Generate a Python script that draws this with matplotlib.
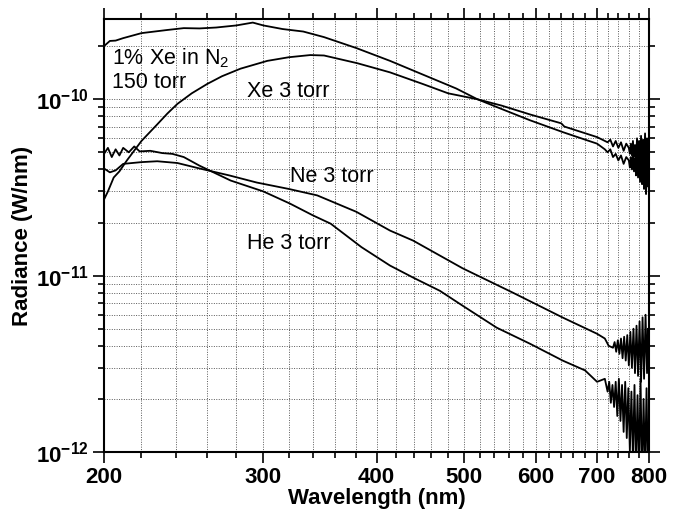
import numpy as np
import matplotlib
matplotlib.use("Agg")
import matplotlib.pyplot as plt
from matplotlib.ticker import FixedLocator, FuncFormatter, NullFormatter

plt.rcParams['font.family'] = ['Liberation Sans', 'DejaVu Sans']
plt.rcParams['mathtext.fontset'] = 'custom'
plt.rcParams['mathtext.rm'] = 'Liberation Sans'
plt.rcParams['mathtext.bf'] = 'Liberation Sans:bold'
plt.rcParams['mathtext.it'] = 'Liberation Sans:italic'

# ---- data ----
xe_n2_wl = [200, 203, 206, 210, 220, 235, 245, 255, 266, 280, 292, 300, 315, 332, 350,
            380, 414, 450, 490, 517, 550, 591, 643, 680, 701, 715, 720, 725, 730, 735,
            740, 745, 750, 755,
            760, 762, 764, 766, 768, 770, 772, 774, 776, 778, 780, 782, 784, 786, 788,
            790, 792, 794, 796, 798, 800]
xe_n2_val = [2.0e-10, 2.14e-10, 2.15e-10, 2.22e-10, 2.37e-10, 2.47e-10, 2.53e-10, 2.52e-10,
             2.55e-10, 2.62e-10, 2.72e-10, 2.62e-10, 2.5e-10, 2.42e-10, 2.25e-10,
             1.95e-10, 1.65e-10, 1.38e-10, 1.15e-10, 1.0e-10, 8.8e-11, 7.6e-11, 6.5e-11,
             5.9e-11, 5.6e-11, 5.2e-11, 5.0e-11, 5.2e-11, 4.7e-11, 4.9e-11,
             4.5e-11, 4.8e-11, 4.3e-11, 4.7e-11,
             4.5e-11, 4.1e-11, 4.7e-11, 4.0e-11, 4.8e-11, 3.9e-11, 4.6e-11, 3.7e-11,
             4.9e-11, 3.6e-11, 4.7e-11, 3.4e-11, 5.0e-11, 3.3e-11, 4.6e-11, 3.1e-11,
             5.2e-11, 2.9e-11, 4.4e-11, 3.2e-11, 3.8e-11]

xe3_wl = [200, 202, 205, 208, 212, 220, 229, 235, 241, 250, 260, 270, 283, 303, 320, 338,
          350, 381, 414, 450, 480, 517, 550, 591, 640, 645, 701, 720, 725, 730, 735, 740,
          745, 750, 755,
          760, 762, 764, 766, 768, 770, 772, 774, 776, 778, 780, 782, 784, 786, 788,
          790, 792, 794, 796, 798, 800]
xe3_val = [2.7e-11, 3.0e-11, 3.6e-11, 3.9e-11, 4.5e-11, 5.8e-11, 7.2e-11, 8.3e-11, 9.4e-11,
           1.08e-10, 1.22e-10, 1.35e-10, 1.49e-10, 1.65e-10, 1.73e-10, 1.78e-10,
           1.77e-10, 1.6e-10, 1.42e-10, 1.22e-10, 1.08e-10, 1.0e-10, 9.2e-11, 8.2e-11,
           7.3e-11, 7.0e-11, 6.1e-11, 5.7e-11, 5.9e-11, 5.4e-11, 5.8e-11, 5.3e-11,
           5.7e-11, 5.1e-11, 5.6e-11,
           5.3e-11, 4.9e-11, 5.6e-11, 4.8e-11, 5.8e-11, 4.7e-11, 5.5e-11, 4.5e-11,
           6.0e-11, 4.6e-11, 5.8e-11, 4.3e-11, 6.2e-11, 4.4e-11, 5.9e-11, 4.2e-11,
           6.4e-11, 4.0e-11, 6.0e-11, 4.4e-11, 5.0e-11]

ne_wl = [200, 203, 206, 210, 220, 229, 241, 255, 275, 295, 320, 344, 380, 414, 439, 498,
         566, 643, 701, 715, 722, 730, 733, 736, 739, 742, 745, 748, 751, 754, 757, 760,
         763, 766, 769, 772, 775, 778, 781, 784, 787, 790, 793, 796, 798, 800]
ne_val = [4.05e-11, 3.85e-11, 3.95e-11, 4.3e-11, 4.4e-11, 4.45e-11, 4.35e-11, 4.05e-11,
          3.7e-11, 3.37e-11, 3.1e-11, 2.85e-11, 2.3e-11, 1.8e-11, 1.58e-11, 1.1e-11,
          8.0e-12, 5.77e-12, 4.68e-12, 4.4e-12, 4.0e-12, 3.9e-12, 4.2e-12, 3.7e-12,
          4.3e-12, 3.6e-12, 4.4e-12, 3.4e-12, 4.5e-12, 3.3e-12, 4.6e-12, 3.1e-12,
          4.8e-12, 3.0e-12, 5.0e-12, 2.8e-12, 5.2e-12, 2.7e-12, 5.5e-12, 2.5e-12,
          5.8e-12, 2.6e-12, 6.0e-12, 2.8e-12, 5.0e-12, 3.5e-12]

he_wl = [200, 202, 204, 206, 208, 210, 213, 216, 219, 225, 232, 238, 245, 255, 276, 300,
         321, 340, 356, 385, 414, 439, 470, 498, 543, 591, 643, 680, 701, 715,
         720, 723, 726, 729, 732, 735, 738, 741, 744, 747, 750, 753, 756, 759, 762, 765,
         768, 771, 774, 777, 780, 783, 786, 789, 792, 795, 798, 800]
he_val = [4.9e-11, 5.3e-11, 4.7e-11, 5.2e-11, 4.8e-11, 5.3e-11, 5.0e-11, 5.4e-11, 5.06e-11,
          5.1e-11, 4.95e-11, 4.9e-11, 4.7e-11, 4.2e-11, 3.46e-11, 3.0e-11, 2.56e-11,
          2.2e-11, 1.97e-11, 1.45e-11, 1.14e-11, 9.75e-12, 8.2e-12, 6.75e-12, 5.07e-12,
          4.11e-12, 3.29e-12, 2.9e-12, 2.5e-12, 2.6e-12,
          2.2e-12, 2.5e-12, 1.9e-12, 2.4e-12, 1.8e-12, 2.5e-12, 1.6e-12, 2.6e-12,
          1.5e-12, 2.4e-12, 1.3e-12, 2.5e-12, 1.2e-12, 2.3e-12, 1.0e-12, 2.2e-12,
          0.9e-12, 2.4e-12, 0.8e-12, 2.1e-12, 0.8e-12, 2.6e-12, 0.7e-12, 2.0e-12,
          0.8e-12, 2.3e-12, 0.7e-12, 1.5e-12]

x_major = [200, 300, 400, 500, 600, 700, 800]
y_major = [1e-12, 1e-11, 1e-10]

# ---- figure ----
fig = plt.figure(figsize=(6.78, 5.12), dpi=100)
ax = fig.add_axes([104/678, 1 - 452/512, (649 - 104)/678, (452 - 19)/512])

for wl, val in [(xe_n2_wl, xe_n2_val), (xe3_wl, xe3_val), (ne_wl, ne_val), (he_wl, he_val)]:
    ax.plot(wl, val, color='black', lw=1.3)

ax.set_xscale('log')
ax.set_yscale('log')
ax.set_xlim(200, 800)
ax.set_ylim(1e-12, 2.85e-10)

ax.xaxis.set_major_locator(FixedLocator(x_major))
ax.xaxis.set_major_formatter(FuncFormatter(lambda v, p: '%d' % round(v)))
ax.xaxis.set_minor_locator(FixedLocator([w for w in range(220, 800, 20) if w % 100 != 0]))
ax.xaxis.set_minor_formatter(NullFormatter())

y_minor = [m * d for d in (1e-12, 1e-11, 1e-10) for m in range(2, 10) if m * d <= 2.85e-10]
ax.yaxis.set_major_locator(FixedLocator(y_major))
ax.yaxis.set_minor_locator(FixedLocator(y_minor))
ax.yaxis.set_major_formatter(FuncFormatter(lambda v, p: r'$\mathbf{10^{%d}}$' % round(np.log10(v))))
ax.yaxis.set_minor_formatter(NullFormatter())

ax.tick_params(which='both', direction='out', top=True, right=True, width=1.2, colors='black')
ax.tick_params(which='major', length=8, labelsize=16, pad=3)
ax.tick_params(which='minor', length=4)
for lab in ax.get_xticklabels():
    lab.set_fontweight('bold')

ax.grid(True, which='both', color='0.35', linestyle=(0, (1, 1.5)), lw=0.7)
for s in ax.spines.values():
    s.set_linewidth(1.5)

ax.set_xlabel('Wavelength (nm)', fontsize=16, fontweight='bold', labelpad=0)
ax.set_ylabel('Radiance (W/nm)', fontsize=16, fontweight='bold', labelpad=2)

tkw = dict(fontsize=15.5, color='black')
ax.text(204, 1.58e-10, r'1% Xe in N$_\mathrm{2}$', **tkw)
ax.text(204, 1.155e-10, '150 torr', **tkw)
ax.text(288, 1.03e-10, 'Xe 3 torr', **tkw)
ax.text(321, 3.38e-11, 'Ne 3 torr', **tkw)
ax.text(288, 1.41e-11, 'He 3 torr', **tkw)

fig.savefig('out.png', dpi=100)
